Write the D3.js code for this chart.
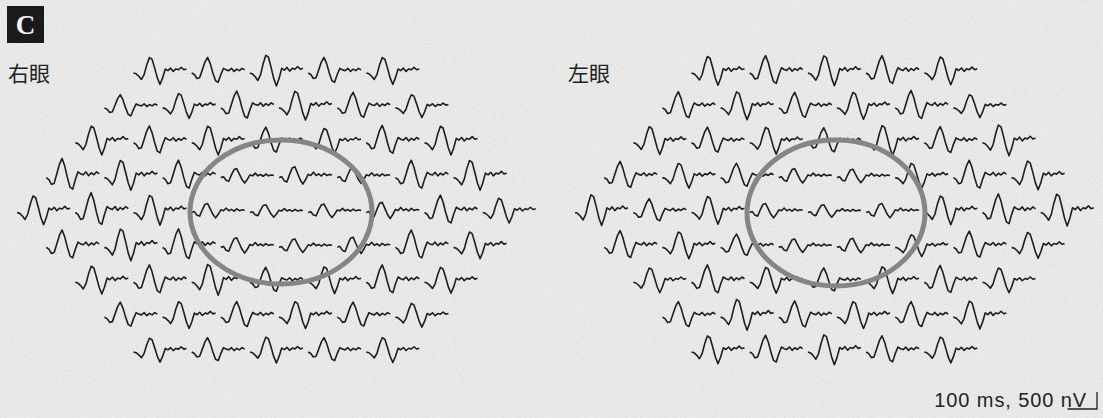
<!DOCTYPE html>
<html><head><meta charset="utf-8">
<script src="https://cdn.jsdelivr.net/npm/d3@7"></script>
<style>html,body{margin:0;padding:0;background:#e8e8e8;}svg{display:block;}</style>
</head><body>
<script>
// ---- data ----
const rowCounts = [5, 6, 7, 8, 9, 8, 7, 6, 5];
// P1 amplitudes (nV) per hexagon, row by row — right eye (右眼)
const rightAmp = [
  [540, 520, 620, 520, 540],
  [440, 500, 560, 580, 520, 460],
  [580, 560, 580, 520, 500, 580, 580],
  [640, 600, 580, 300, 360, 320, 580, 600],
  [580, 660, 600, 300, 260, 280, 340, 580, 500],
  [580, 640, 620, 320, 280, 340, 580, 540],
  [560, 580, 620, 500, 540, 580, 520],
  [500, 540, 520, 540, 500, 480],
  [480, 480, 520, 480, 500]
];
// left eye (左眼)
const leftAmp = [
  [580, 580, 600, 580, 560],
  [540, 560, 520, 540, 580, 460],
  [560, 520, 540, 500, 600, 540, 620],
  [540, 500, 480, 300, 280, 500, 580, 580],
  [620, 460, 560, 300, 260, 300, 580, 620, 640],
  [560, 540, 440, 280, 300, 440, 540, 520],
  [500, 580, 520, 480, 540, 560, 500],
  [520, 620, 540, 540, 520, 560],
  [560, 560, 600, 540, 520]
];
// response templates (normalised to P1), sampled every 9 ms over 180 ms
const sampleMs = 9;
const templateA = [0, -0.05, -0.2, -0.4, -0.1, 0.5, 0.95, 0.85, 0.3, -0.3, -0.7, -0.3, 0.25, 0.15, 0.3, 0.1, 0.25, 0.2, 0.35, 0.2, 0.25];
const templateB = [0, -0.1, -0.35, -0.3, 0.2, 0.7, 1.0, 0.6, 0.0, -0.5, -0.6, -0.1, 0.3, 0.2, 0.15, 0.3, 0.1, 0.25, 0.15, 0.3, 0.2];
const templateC = [0, 0.1, -0.3, -0.4, 0.3, 0.9, 1.0, 0.4, -0.2, -0.6, -0.2, 0.3, 0.2, 0.5, 0.2, 0.35, 0.15, 0.4, 0.2, 0.3, 0.25];
const templates = [templateA, templateB, templateC];
const eyeLabels = ["右眼", "左眼"];
const panelLabel = "C";
const scaleLabel = "100 ms, 500 nV";
const scaleBar = {ms: 100, nV: 500};

// ---- layout ----
const W = 1103, H = 418;
const svg = d3.select("body").append("svg").attr("width", W).attr("height", H);
const defs = svg.append("defs");
const f = defs.append("filter").attr("id", "grain").attr("x", 0).attr("y", 0).attr("width", "100%").attr("height", "100%");
f.append("feTurbulence").attr("type", "fractalNoise").attr("baseFrequency", 0.9).attr("numOctaves", 1).attr("seed", 3).attr("result", "n");
f.append("feColorMatrix").attr("in", "n").attr("type", "matrix")
  .attr("values", "0 0 0 0 0.5  0 0 0 0 0.5  0 0 0 0 0.5  0 0 0 -2.2 1.25");
svg.append("rect").attr("width", W).attr("height", H).attr("fill", "#ebebeb");
svg.append("rect").attr("width", W).attr("height", H).attr("filter", "url(#grain)").attr("opacity", 0.35);

const tScale = d3.scaleLinear().domain([0, 180]).range([0, 53]);   // ms -> px
const vScale = d3.scaleLinear().domain([0, 500]).range([0, -15]);  // nV -> px
const rowScale = d3.scaleLinear().domain([0, 8]).range([73, 352]);
const pitch = 58.2;

const line = d3.line().x((d, i) => tScale(i * sampleMs)).y(d => d);

function drawEye(g, amps, cx) {
  amps.forEach((row, r) => {
    const n = rowCounts[r];
    const colScale = d3.scaleLinear().domain([0, n]).range([cx - n * pitch / 2, cx + n * pitch / 2]);
    row.forEach((a, c) => {
      const tpl = a < 400 ? templateC : templates[(r + c) % 2];
      const pts = tpl.map(v => vScale(v * a));
      g.append("path")
        .attr("transform", `translate(${colScale(c)},${rowScale(r)})`)
        .attr("d", line(pts))
        .attr("fill", "none").attr("stroke", "#1e1e1e").attr("stroke-width", 1.6)
        .attr("stroke-linejoin", "round");
    });
  });
}

const eyes = [
  {amps: rightAmp, cx: 279, lx: 8, ell: {cx: 281, cy: 212, rx: 91, ry: 72}},
  {amps: leftAmp, cx: 837, lx: 568, ell: {cx: 836, cy: 213, rx: 89, ry: 73}}
];
eyes.forEach((e, i) => {
  const g = svg.append("g");
  drawEye(g, e.amps, e.cx);
  g.append("ellipse").attr("cx", e.ell.cx).attr("cy", e.ell.cy).attr("rx", e.ell.rx).attr("ry", e.ell.ry)
    .attr("fill", "none").attr("stroke", "#858585").attr("stroke-width", 5);
  svg.append("text").attr("x", e.lx).attr("y", 81).text(eyeLabels[i])
    .attr("font-family", "'Noto Sans CJK JP'").attr("font-size", 21).attr("fill", "#222");
});

// panel label
svg.append("rect").attr("x", 7).attr("y", 6).attr("width", 37).attr("height", 37).attr("fill", "#1a1a1a");
svg.append("text").attr("x", 25.5).attr("y", 34).attr("text-anchor", "middle").text(panelLabel)
  .attr("font-family", "'Liberation Serif'").attr("font-weight", "bold").attr("font-size", 27).attr("fill", "#f4f4f4");

// scale bar
const sx = 1097, sy = 409;
svg.append("path")
  .attr("d", `M${sx - tScale(scaleBar.ms)},${sy}H${sx}V${sy + vScale(scaleBar.nV) - 2}`)
  .attr("fill", "none").attr("stroke", "#222").attr("stroke-width", 1.3);
svg.append("text").attr("x", 1087).attr("y", 407).attr("text-anchor", "end").text(scaleLabel)
  .attr("font-family", "'Liberation Sans'").attr("font-size", 20).attr("letter-spacing", 0.9).attr("fill", "#222");
</script>
</body></html>
